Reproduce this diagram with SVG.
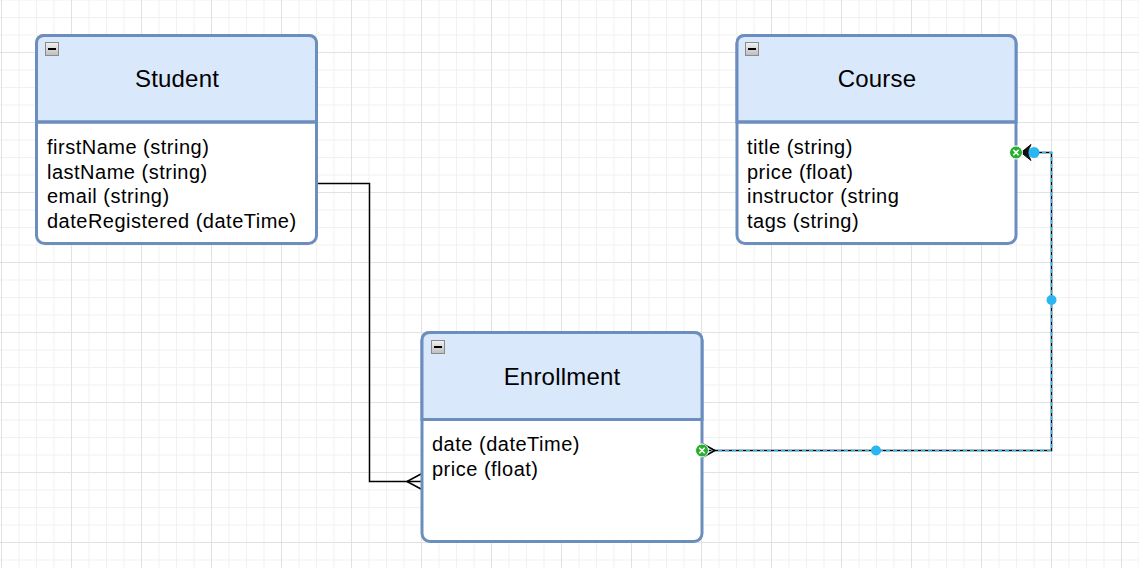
<svg xmlns="http://www.w3.org/2000/svg" width="1139" height="568" viewBox="0 0 1139 568">
<defs>
<pattern id="minor" x="1" y="17" width="17.5" height="17.5" patternUnits="userSpaceOnUse">
<path d="M0 0.5 H17.5 M0.5 0 V17.5" fill="none" stroke="#f1f1f1" stroke-width="1"/>
</pattern>
<pattern id="major" x="1" y="52" width="70" height="70" patternUnits="userSpaceOnUse">
<path d="M0 0.5 H70 M0.5 0 V70" fill="none" stroke="#e2e2e2" stroke-width="1"/>
</pattern>
<linearGradient id="btn" x1="0" y1="0" x2="0" y2="1">
<stop offset="0" stop-color="#f2f2f2"/>
<stop offset="1" stop-color="#bdbdbd"/>
</linearGradient>
<g id="collapse">
<rect x="0.5" y="0.5" width="13" height="13" fill="url(#btn)" stroke="#8a8a8a" stroke-width="1"/>
<rect x="3" y="6" width="8" height="2" fill="#000"/>
</g>
<g id="handle">
<circle r="6.5" fill="#26b02b" stroke="#ffffff" stroke-width="1"/>
<path d="M-2.7 -2.7 L2.7 2.7 M2.7 -2.7 L-2.7 2.7" stroke="#fff" stroke-width="1.6"/>
</g>
</defs>
<style>
.hdr{fill:#dae8fc;stroke:#6c8ebf;stroke-width:3}
.box{fill:#ffffff;stroke:#6c8ebf;stroke-width:3}
.div{stroke:#6c8ebf;stroke-width:3}
.title{font-family:"Liberation Sans",Arial,sans-serif;font-size:24px;letter-spacing:0.2px;fill:#000;text-anchor:middle}
.attr{font-family:"Liberation Sans",Arial,sans-serif;font-size:20px;letter-spacing:0.5px;fill:#000}
.edge{fill:none;stroke:#000;stroke-width:1.5}
.sel{fill:none;stroke:#29b6f2;stroke-width:1.5;stroke-dasharray:4 3}
.dot{fill:#29b6f2}
</style>
<rect width="1139" height="568" fill="#ffffff"/>
<rect width="1139" height="568" fill="url(#minor)"/>
<rect width="1139" height="568" fill="url(#major)"/>

<g id="connectors">
<g id="edge-student-enrollment">
<path class="edge" d="M317 183.5 H369.5 V481.5 H421"/>
<path class="edge" d="M407 481.5 L421 474 M407 481.5 L421 489"/>
</g>
<g id="edge-enrollment-course">
<path class="edge" d="M704 450.5 H1051.5 V152.5 H1017"/>
<path class="sel" d="M704 450.5 H1051.5 V152.5 H1017"/>
<path class="edge" d="M703 444 L715 450.5 L703 457"/>
<path d="M1021 152.5 L1031 144.5 Q1026 152.5 1031 160.5 Z" fill="#111" stroke="#111" stroke-width="1"/>
<circle class="dot" cx="876" cy="450.5" r="5"/>
<circle class="dot" cx="1051.5" cy="300" r="5"/>
<circle class="dot" cx="1034" cy="152.5" r="5.5"/>
</g>
</g>

<g id="student">
<rect class="box" x="36.5" y="35.5" width="280" height="208" rx="8"/>
<path class="hdr" d="M36.5 122 V43.5 Q36.5 35.5 44.5 35.5 H308.5 Q316.5 35.5 316.5 43.5 V122 Z"/>
<line class="div" x1="36.5" y1="122" x2="316.5" y2="122"/>
<use href="#collapse" x="45" y="42"/>
<text class="title" x="177" y="87">Student</text>
<text class="attr" x="47" y="154">firstName (string)</text>
<text class="attr" x="47" y="178.5">lastName (string)</text>
<text class="attr" x="47" y="203">email (string)</text>
<text class="attr" x="47" y="227.5">dateRegistered (dateTime)</text>
</g>

<g id="course">
<rect class="box" x="737" y="35.5" width="279" height="208" rx="8"/>
<path class="hdr" d="M737 122 V43.5 Q737 35.5 745 35.5 H1008 Q1016 35.5 1016 43.5 V122 Z"/>
<line class="div" x1="737" y1="122" x2="1016" y2="122"/>
<use href="#collapse" x="745" y="42"/>
<text class="title" x="877" y="87">Course</text>
<text class="attr" x="747" y="154">title (string)</text>
<text class="attr" x="747" y="178.5">price (float)</text>
<text class="attr" x="747" y="203">instructor (string</text>
<text class="attr" x="747" y="227.5">tags (string)</text>
</g>

<g id="enrollment">
<rect class="box" x="422" y="332.5" width="280" height="209" rx="8"/>
<path class="hdr" d="M422 419.5 V340.5 Q422 332.5 430 332.5 H694 Q702 332.5 702 340.5 V419.5 Z"/>
<line class="div" x1="422" y1="419.5" x2="702" y2="419.5"/>
<use href="#collapse" x="431" y="340"/>
<text class="title" x="562" y="385">Enrollment</text>
<text class="attr" x="432" y="450.5">date (dateTime)</text>
<text class="attr" x="432" y="476">price (float)</text>
</g>
<use href="#handle" x="702" y="450.5"/>
<use href="#handle" x="1016" y="152.5"/>
</svg>
